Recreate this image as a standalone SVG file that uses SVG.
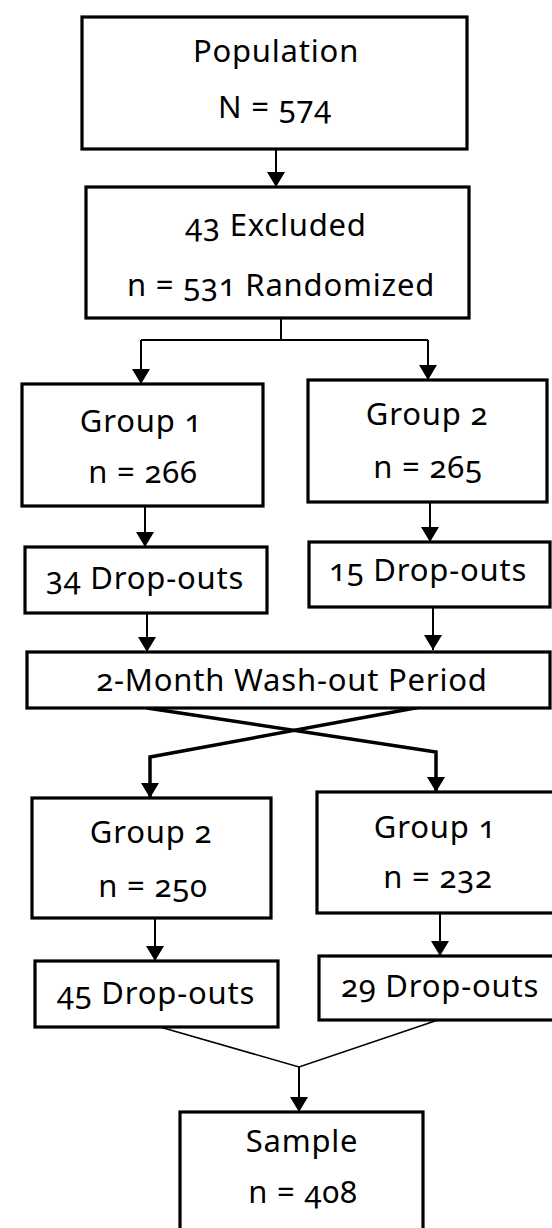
<svg xmlns="http://www.w3.org/2000/svg" width="552" height="1228" viewBox="0 0 552 1228">
<defs>
<style>
.box{fill:#fff;stroke:#000;stroke-width:3.2}
.t{font-family:"Noto Sans","Open Sans",sans-serif;font-size:31px;letter-spacing:0.8px;fill:#000;text-anchor:middle;font-variant-numeric:oldstyle-nums;font-feature-settings:"onum" 1}
.c{fill:none;stroke:#000;stroke-width:2}
.thick{stroke-width:3.5}
.thin{stroke-width:1.5}
</style>
<marker id="ah" viewBox="0 0 15 18" refX="15" refY="9" markerWidth="15" markerHeight="18" markerUnits="userSpaceOnUse" orient="auto">
<path d="M0,0 L15,9 L0,18 z" fill="#000"/>
</marker>
</defs>
<rect width="552" height="1228" fill="#fff"/>
<g id="connectors">
<line class="c" x1="276" y1="149" x2="276" y2="187" marker-end="url(#ah)"/>
<polyline class="c" points="281,318 281,340"/>
<polyline class="c" points="141,340 428,340"/>
<line class="c" x1="141" y1="340" x2="141" y2="384" marker-end="url(#ah)"/>
<line class="c" x1="428" y1="340" x2="428" y2="380" marker-end="url(#ah)"/>
<line class="c" x1="145" y1="506" x2="145" y2="547" marker-end="url(#ah)"/>
<line class="c" x1="430" y1="502" x2="430" y2="542" marker-end="url(#ah)"/>
<line class="c" x1="147" y1="613" x2="147" y2="652" marker-end="url(#ah)"/>
<line class="c" x1="433" y1="607" x2="433" y2="650" marker-end="url(#ah)"/>
<polyline class="c thick" points="147,708 436,752 436,792" marker-end="url(#ah)"/>
<polyline class="c thick" points="426,706 150,757 150,798" marker-end="url(#ah)"/>
<line class="c" x1="155" y1="918" x2="155" y2="961" marker-end="url(#ah)"/>
<line class="c" x1="440" y1="913" x2="440" y2="956" marker-end="url(#ah)"/>
<polyline class="c thin" points="160,1027 299,1067 438,1020"/>
<line class="c" x1="299" y1="1067" x2="299" y2="1112" marker-end="url(#ah)"/>
</g>
<g id="population"><rect class="box" x="82" y="17" width="385" height="132"/><text class="t" x="276" y="62">Population</text><text class="t" x="275" y="118">N = 574</text></g>
<g id="randomized"><rect class="box" x="86" y="187" width="383" height="131"/><text class="t" x="276" y="236">43 Excluded</text><text class="t" x="281" y="296">n = 531 Randomized</text></g>
<g id="group1a"><rect class="box" x="22" y="384" width="241" height="122"/><text class="t" x="141" y="432">Group 1</text><text class="t" x="143" y="483">n = 266</text></g>
<g id="group2a"><rect class="box" x="308" y="380" width="239" height="122"/><text class="t" x="427" y="425">Group 2</text><text class="t" x="428" y="478">n = 265</text></g>
<g id="drop34"><rect class="box" x="25" y="547" width="242" height="66"/><text class="t" x="145" y="589">34 Drop-outs</text></g>
<g id="drop15"><rect class="box" x="309" y="542" width="241" height="65"/><text class="t" x="428" y="581">15 Drop-outs</text></g>
<g id="washout"><rect class="box" x="27" y="652" width="523" height="56"/><text class="t" x="292" y="691">2-Month Wash-out Period</text></g>
<g id="group2b"><rect class="box" x="32" y="798" width="239" height="120"/><text class="t" x="151" y="843">Group 2</text><text class="t" x="153" y="897">n = 250</text></g>
<g id="group1b"><rect class="box" x="317" y="792" width="240" height="121"/><text class="t" x="435" y="838">Group 1</text><text class="t" x="438" y="888">n = 232</text></g>
<g id="drop45"><rect class="box" x="35" y="961" width="243" height="66"/><text class="t" x="156" y="1004">45 Drop-outs</text></g>
<g id="drop29"><rect class="box" x="319" y="956" width="240" height="64"/><text class="t" x="440" y="997">29 Drop-outs</text></g>
<g id="sample"><rect class="box" x="180" y="1112" width="243" height="122"/><text class="t" x="302" y="1152">Sample</text><text class="t" x="303" y="1203">n = 408</text></g>
</svg>
